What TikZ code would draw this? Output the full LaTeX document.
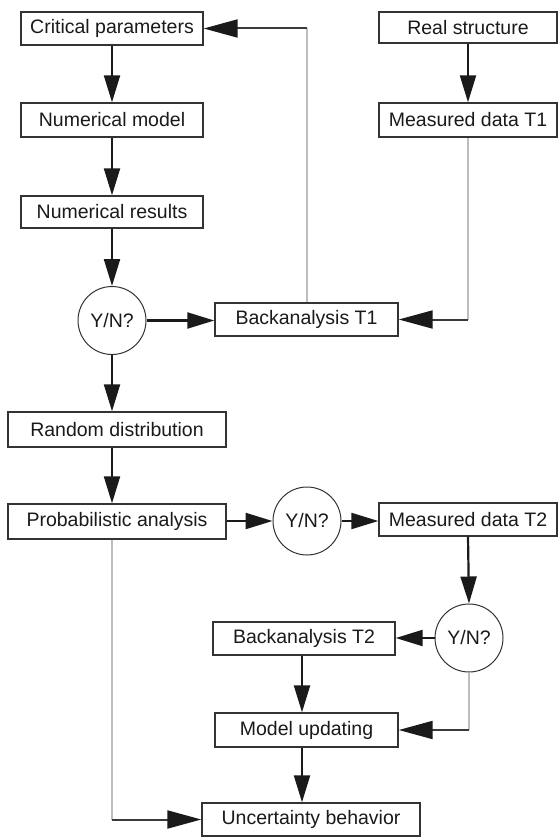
\documentclass[tikz,border=0pt]{standalone}
\usepackage{fontspec}
\setmainfont{Liberation Sans}
\usetikzlibrary{arrows.meta}
\definecolor{ink}{HTML}{1A1A1A}
\definecolor{lightline}{HTML}{BDBDBD}
\definecolor{boxline}{HTML}{333333}
\definecolor{darkseg}{HTML}{3A3A3A}
\begin{document}
\begin{tikzpicture}[x=1pt,y=-1pt,
  lbl/.style={text=ink, font=\fontsize{19.5}{22}\selectfont},
  box/.style={lbl, draw=boxline, line width=1.4pt, rectangle, inner sep=0pt},
  yn/.style={lbl, draw=boxline, line width=1pt, circle, minimum size=68pt, inner sep=0pt},
  tipA/.style={-{Triangle[length=27pt,width=16pt,color=ink]}},
  tipB/.style={-{Triangle[length=34pt,width=18pt,color=ink]}},
  conn/.style={draw=ink, line width=2.2pt, tipA},
  greyline/.style={draw=lightline, line width=2pt},
  darkline/.style={draw=darkseg, line width=2pt}
]
\useasboundingbox[fill=white] (0,0) rectangle (559,837);

% left column
\node[box, minimum width=182pt, minimum height=33pt] (crit)   at (112,28.5)  {Critical parameters};
\node[box, minimum width=182pt, minimum height=34pt] (nummod) at (112,120)   {Numerical model};
\node[box, minimum width=182pt, minimum height=32pt] (numres) at (112,212)   {Numerical results};
\node[yn] (yn1) at (112,320.5) {Y/N?};
\node[box, minimum width=218pt, minimum height=35pt] (rand)   at (117,429.5) {Random distribution};
\node[box, minimum width=218pt, minimum height=35pt] (prob)   at (117,521.5) {Probabilistic analysis};

% right top
\node[box, minimum width=178pt, minimum height=31pt] (real)   at (468,27.5)  {Real structure};
\node[box, minimum width=178pt, minimum height=34pt] (meas1)  at (468,120)   {Measured data T1};
\node[box, minimum width=183pt, minimum height=33pt] (back1)  at (306.5,319.5) {Backanalysis T1};

% lower part
\node[yn] (yn2) at (307,521) {Y/N?};
\node[box, minimum width=178pt, minimum height=33pt] (meas2)  at (468,519.5) {Measured data T2};
\node[yn] (yn3) at (469,638) {Y/N?};
\node[box, minimum width=182pt, minimum height=33pt] (back2)  at (304,638.5) {Backanalysis T2};
\node[box, minimum width=183pt, minimum height=34pt] (model)  at (306.5,730) {Model updating};
\node[box, minimum width=218pt, minimum height=33pt] (unc)    at (311,819.5) {Uncertainty behavior};

% coordinates for the vertical arrow lines
\coordinate (colL) at (112,0);
\coordinate (colM) at (302,0);

% main black arrows
\draw[conn] (crit.south) -- (nummod.north);
\draw[conn] (nummod.south) -- (numres.north);
\draw[conn] (numres.south) -- (yn1.north);
\draw[conn] (yn1.south) -- (yn1.south |- rand.north);
\draw[conn] (rand.south -| colL) -- (prob.north -| colL);
\draw[conn] (yn1.east) -- (yn1.east -| back1.west);
\draw[conn] (real.south) -- (meas1.north);
\draw[conn] (prob.east |- yn2.west) -- (yn2.west);
\draw[conn] (yn2.east) -- (yn2.east -| meas2.west);
\draw[conn] (meas2.south) -- (yn3.north);
\draw[conn] (yn3.west) -- (yn3.west -| back2.east);
\draw[conn] (back2.south -| colM) -- (model.north -| colM);
\draw[conn] (model.south -| colM) -- (unc.north -| colM);

% feedback connectors (grey vertical, dark horizontal, black tips)
\draw[greyline] (back1.north) -- (back1.north |- crit.east);
\draw[darkline, tipB] (back1.north |- crit.east) -- (crit.east);

\draw[greyline] (meas1.south) -- (meas1.south |- back1.east);
\draw[darkline, tipB] (meas1.south |- back1.east) -- (back1.east);

\draw[greyline] (yn3.south) -- (yn3.south |- model.east);
\draw[darkline, tipB] (yn3.south |- model.east) -- (model.east);

\draw[greyline] (prob.south -| colL) -- (colL |- unc.west);
\draw[darkline, tipB] (colL |- unc.west) -- (unc.west);
\end{tikzpicture}
\end{document}
